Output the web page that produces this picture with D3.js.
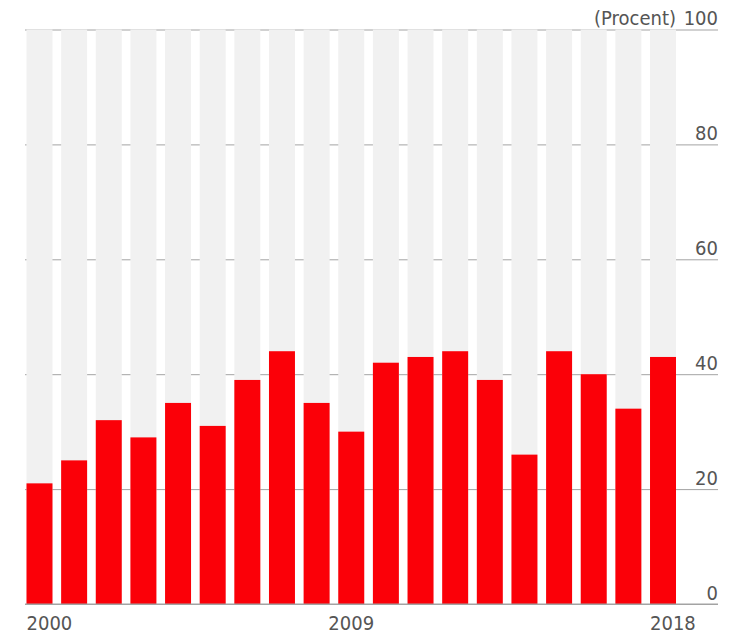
<!DOCTYPE html>
<html>
<head>
<meta charset="utf-8">
<script src="https://cdn.jsdelivr.net/npm/d3@7"></script>
<style>
  body { margin: 0; background: #fff; }
  text { font-family: "DejaVu Sans Condensed", "DejaVu Sans", sans-serif; font-stretch: condensed; fill: #555; font-size: 20px; }
</style>
</head>
<body>
<svg id="chart" width="730" height="634"></svg>
<script>
const years = ["2000","2001","2002","2003","2004","2005","2006","2007","2008","2009",
               "2010","2011","2012","2013","2014","2015","2016","2017","2018"];
const values = [21, 25, 32, 29, 35, 31, 39, 44, 35, 30, 42, 43, 44, 39, 26, 44, 40, 34, 43];
const yTicks = [0, 20, 40, 60, 80, 100];
const yearLabels = ["2000", "2009", "2018"];
const unitLabel = "(Procent)";

const svg = d3.select("#chart");
const plotLeft = 26.5, plotRight = 676, gridLeft = 25, gridRight = 718;
const plotTop = 29.5, plotBottom = 604;

const x = d3.scaleBand().domain(years).range([plotLeft, plotRight]).paddingInner(0.25).paddingOuter(0);
const y = d3.scaleLinear().domain([0, 100]).range([plotBottom, plotTop]);

// gridlines (behind the grey columns)
const grid = svg.append("g")
    .attr("class", "grid")
    .attr("transform", `translate(${gridRight},0)`)
    .call(d3.axisLeft(y).tickValues(yTicks).tickSize(gridRight - gridLeft).tickFormat(""));
grid.select(".domain").remove();
grid.selectAll("line").attr("stroke", "#a3a3a3").attr("stroke-width", 1);

// grey background columns
svg.append("g").selectAll("rect")
    .data(years)
    .join("rect")
    .attr("x", d => x(d))
    .attr("width", x.bandwidth())
    .attr("y", y(100))
    .attr("height", y(0) - y(100))
    .attr("fill", "#f1f1f1");

// red bars
svg.append("g").selectAll("rect")
    .data(values)
    .join("rect")
    .attr("x", (d, i) => x(years[i]))
    .attr("width", x.bandwidth())
    .attr("y", d => y(d))
    .attr("height", d => y(0) - y(d))
    .attr("fill", "#fb0008");

// baseline
svg.append("line")
    .attr("x1", gridLeft).attr("x2", gridRight)
    .attr("y1", y(0)).attr("y2", y(0))
    .attr("stroke", "#a3a3a3").attr("stroke-width", 1);

// right tick labels
svg.append("g").selectAll("text")
    .data(yTicks)
    .join("text")
    .attr("x", gridRight)
    .attr("y", d => y(d) - 4.5)
    .attr("text-anchor", "end")
    .text(d => d);

svg.append("text")
    .attr("x", plotRight)
    .attr("y", y(100) - 4.5)
    .attr("text-anchor", "end")
    .text(unitLabel);

// year labels
svg.append("g").selectAll("text")
    .data(yearLabels)
    .join("text")
    .attr("x", (d, i) => i == 1 ? x(d) + x.bandwidth() / 2 : x(d))
    .attr("y", 630)
    .attr("text-anchor", (d, i) => i == 1 ? "middle" : "start")
    .text(d => d);
</script>
</body>
</html>
